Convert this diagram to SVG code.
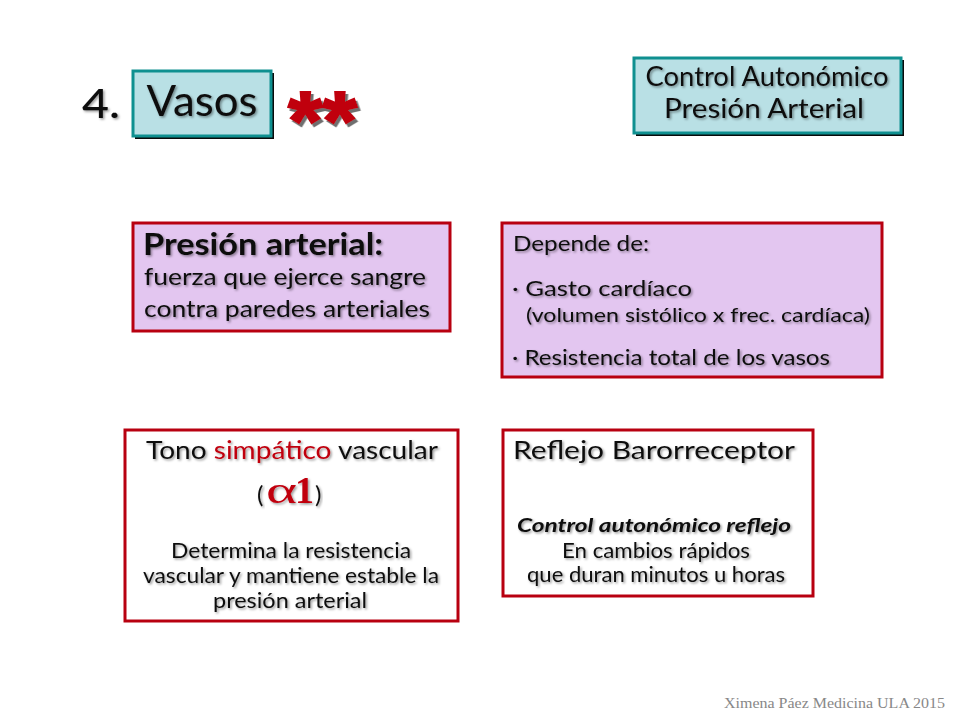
<svg xmlns="http://www.w3.org/2000/svg" width="960" height="720" viewBox="0 0 960 720">
<defs>
<filter id="sh" x="-10%" y="-30%" width="120%" height="160%"><feDropShadow dx="1.5" dy="1.5" stdDeviation="0.8" flood-color="#000" flood-opacity="0.4"/></filter>
<filter id="sh2" x="-20%" y="-30%" width="140%" height="160%"><feDropShadow dx="2.5" dy="3" stdDeviation="0.6" flood-color="#555" flood-opacity="0.85"/></filter>
</defs>
<style>
text{font-family:"Lato","Noto Sans",sans-serif;fill:#111;filter:url(#sh)}
.m{text-anchor:middle}
.teal{fill:#b9e0e5;stroke:#0f9090;stroke-width:3}
.back{fill:#0a0a0a}
.pur{fill:#e3c6f0;stroke:#b80010;stroke-width:3}
.wht{fill:#fff;stroke:#b80010;stroke-width:3}
.red{fill:#c00010}
</style>
<rect width="960" height="720" fill="#fff"/>
<g id="titulo-num"><text x="82" y="118" font-size="40" font-weight="500" textLength="38" lengthAdjust="spacingAndGlyphs">4.</text></g>
<g id="vasos">
<rect class="back" x="135" y="73" width="139" height="66"/>
<rect class="teal" x="133" y="71" width="138" height="65"/>
<text class="m" x="202" y="116" font-size="42" textLength="111" lengthAdjust="spacingAndGlyphs">Vasos</text>
</g>
<g id="estrellas"><text x="288" y="150" font-size="84" font-weight="700" class="red" style="filter:url(#sh2);font-family:'Liberation Sans',sans-serif;stroke:#c00010;stroke-width:2" textLength="69" lengthAdjust="spacingAndGlyphs">**</text></g>
<g id="control">
<rect class="back" x="636" y="60" width="268" height="76"/>
<rect class="teal" x="634" y="58" width="267" height="75"/>
<text class="m" x="767" y="86" font-size="26" textLength="243" lengthAdjust="spacingAndGlyphs">Control Autonómico</text>
<text class="m" x="764" y="118" font-size="26" textLength="200" lengthAdjust="spacingAndGlyphs">Presión Arterial</text>
</g>
<g id="presion">
<rect class="pur" x="133" y="223" width="317" height="108"/>
<text x="143" y="255" font-size="30" font-weight="700" textLength="240" lengthAdjust="spacingAndGlyphs">Presión arterial:</text>
<text x="144" y="285" font-size="23" textLength="282" lengthAdjust="spacingAndGlyphs">fuerza que ejerce sangre</text>
<text x="144" y="317" font-size="23" textLength="286" lengthAdjust="spacingAndGlyphs">contra paredes arteriales</text>
</g>
<g id="depende">
<rect class="pur" x="502" y="223" width="380" height="154"/>
<text x="513" y="251" font-size="22" textLength="136" lengthAdjust="spacingAndGlyphs">Depende de:</text>
<text x="512" y="296" font-size="22" textLength="180" lengthAdjust="spacingAndGlyphs">· Gasto cardíaco</text>
<text x="526" y="322" font-size="20" textLength="344" lengthAdjust="spacingAndGlyphs">(volumen sistólico x frec. cardíaca)</text>
<text x="512" y="365" font-size="21" textLength="318" lengthAdjust="spacingAndGlyphs">· Resistencia total de los vasos</text>
</g>
<g id="tono">
<rect class="wht" x="125" y="430" width="333" height="191"/>
<text class="m" x="292" y="459" font-size="25" textLength="292" lengthAdjust="spacingAndGlyphs">Tono <tspan class="red" fill="#c00010">simpático</tspan> vascular</text>
<text x="257" y="503" font-size="24">(</text>
<text x="266" y="503" font-size="38" class="red" style="font-family:'Liberation Serif',serif" textLength="31" lengthAdjust="spacingAndGlyphs">α</text>
<text x="295" y="503" font-size="38" font-weight="700" class="red" style="font-family:'Liberation Serif',serif">1</text>
<text x="315" y="503" font-size="24">)</text>
<text class="m" x="291" y="558" font-size="21" textLength="240" lengthAdjust="spacingAndGlyphs">Determina la resistencia</text>
<text class="m" x="291" y="583" font-size="21" textLength="296" lengthAdjust="spacingAndGlyphs">vascular y mantiene estable la</text>
<text class="m" x="290" y="608" font-size="21" textLength="154" lengthAdjust="spacingAndGlyphs">presión arterial</text>
</g>
<g id="reflejo">
<rect class="wht" x="503" y="430" width="310" height="166"/>
<text x="513" y="459" font-size="25" textLength="282" lengthAdjust="spacingAndGlyphs">Reflejo Barorreceptor</text>
<text class="m" x="654" y="532" font-size="19" font-weight="700" font-style="italic" textLength="274" lengthAdjust="spacingAndGlyphs">Control autonómico reflejo</text>
<text class="m" x="656" y="558" font-size="21" textLength="188" lengthAdjust="spacingAndGlyphs">En cambios rápidos</text>
<text class="m" x="656" y="582" font-size="21" textLength="258" lengthAdjust="spacingAndGlyphs">que duran minutos u horas</text>
</g>
<text x="724" y="708" font-size="15" style="font-family:'Liberation Serif',serif;fill:#888;filter:none" textLength="221" lengthAdjust="spacingAndGlyphs">Ximena Páez Medicina ULA 2015</text>
</svg>
